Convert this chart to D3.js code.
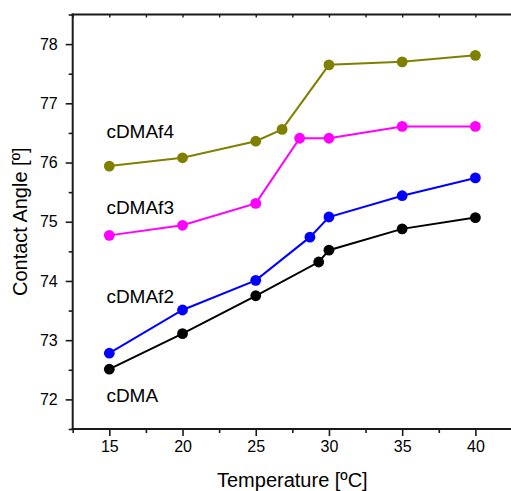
<!DOCTYPE html>
<html>
<head>
<meta charset="utf-8">
<script src="https://cdn.jsdelivr.net/npm/d3@7"></script>
<style>
  html, body { margin: 0; padding: 0; background: #fff; }
  svg { display: block; }
  text { font-family: "Liberation Sans", Arial, sans-serif; fill: #000; }
</style>
</head>
<body>
<svg id="chart" width="511" height="491"></svg>
<script>
// Contact angle vs temperature for four samples
const tempsCDMA   = [15, 20, 25, 29.3, 30, 35, 40];
const angleCDMA   = [72.51, 73.11, 73.75, 74.32, 74.52, 74.88, 75.07];
const tempsCDMAf2 = [15, 20, 25, 28.7, 30, 35, 40];
const angleCDMAf2 = [72.78, 73.51, 74.01, 74.74, 75.08, 75.44, 75.74];
const tempsCDMAf3 = [15, 20, 25, 28, 30, 35, 40];
const angleCDMAf3 = [74.77, 74.94, 75.31, 76.41, 76.41, 76.61, 76.61];
const tempsCDMAf4 = [15, 20, 25, 26.8, 30, 35, 40];
const angleCDMAf4 = [75.94, 76.08, 76.36, 76.56, 77.65, 77.70, 77.81];

const seriesNames  = ["cDMA", "cDMAf2", "cDMAf3", "cDMAf4"];
const seriesColors = ["#000000", "#0000ff", "#ff00ff", "#808000"];
// label anchor in data units (temperature, angle)
const labelTemp  = [14.8, 14.8, 14.8, 14.8];
const labelAngle = [71.95, 73.63, 75.13, 76.41];

const xTicks = [15, 20, 25, 30, 35, 40];
const yTicks = [72, 73, 74, 75, 76, 77, 78];

const seriesTemps  = [tempsCDMA, tempsCDMAf2, tempsCDMAf3, tempsCDMAf4];
const seriesAngles = [angleCDMA, angleCDMAf2, angleCDMAf3, angleCDMAf4];

const svg = d3.select("#chart");
const x = d3.scaleLinear().domain([12.5, 42.5]).range([72.7, 512]);
const y = d3.scaleLinear().domain([71.5, 78.5]).range([429, 14.5]);

const axisColor = "#1a1a1a";

// bottom axis: major ticks with labels, minor ticks in between
const minorX = d3.range(12.5, 42.51, 2.5).filter(v => !xTicks.includes(v));
const minorY = d3.range(71.5, 78.51, 0.5).filter(v => !yTicks.includes(v));

const gx = svg.append("g").attr("transform", `translate(0,${y(71.5)})`);
gx.call(d3.axisBottom(x).tickValues(xTicks).tickSize(7).tickPadding(5).tickFormat(d3.format("d")));
gx.append("g").call(d3.axisBottom(x).tickValues(minorX).tickSize(4).tickFormat(""));
gx.selectAll("path.domain").remove();
gx.append("line").attr("x1", x(12.5) - 1).attr("x2", x(42.5)).attr("stroke", axisColor).attr("stroke-width", 2);
gx.selectAll(".tick line").attr("stroke", axisColor).attr("stroke-width", 1.6);
gx.selectAll(".tick text").attr("font-size", 16).attr("fill", "#111");

// top axis: small inward ticks
const gt = svg.append("g").attr("transform", `translate(0,${y(78.5)})`);
gt.call(d3.axisBottom(x).tickValues(d3.range(12.5, 42.51, 2.5)).tickSize(3).tickFormat(""));
gt.selectAll("path.domain").remove();
gt.append("line").attr("x1", x(12.5) - 1).attr("x2", x(42.5)).attr("stroke", axisColor).attr("stroke-width", 2);
gt.selectAll(".tick line").attr("stroke", axisColor).attr("stroke-width", 1.4);

// left axis
const gy = svg.append("g").attr("transform", `translate(${x(12.5)},0)`);
gy.call(d3.axisLeft(y).tickValues(yTicks).tickSize(7).tickPadding(8).tickFormat(d3.format("d")));
gy.append("g").call(d3.axisLeft(y).tickValues(minorY).tickSize(4).tickFormat(""));
gy.selectAll("path.domain").remove();
gy.append("line").attr("y1", y(78.5) - 1).attr("y2", y(71.5) + 1).attr("stroke", axisColor).attr("stroke-width", 2);
gy.selectAll(".tick line").attr("stroke", axisColor).attr("stroke-width", 1.6);
gy.selectAll(".tick text").attr("font-size", 16).attr("fill", "#111");

// series lines and markers
const line = d3.line().x(d => x(d[0])).y(d => y(d[1]));
seriesNames.forEach((name, i) => {
  const pts = seriesTemps[i].map((t, j) => [t, seriesAngles[i][j]]);
  const g = svg.append("g").attr("class", "series");
  g.append("path").datum(pts).attr("d", line)
    .attr("fill", "none").attr("stroke", seriesColors[i]).attr("stroke-width", 2);
  g.selectAll("circle").data(pts).join("circle")
    .attr("cx", d => x(d[0])).attr("cy", d => y(d[1])).attr("r", 5.4)
    .attr("fill", seriesColors[i]);
  svg.append("text")
    .attr("x", x(labelTemp[i])).attr("y", y(labelAngle[i]))
    .attr("font-size", 19).text(name);
});

// axis titles
svg.append("text")
  .attr("x", (x(12.5) + x(42.5)) / 2).attr("y", 487)
  .attr("text-anchor", "middle").attr("font-size", 20)
  .text("Temperature [ºC]");
svg.append("text")
  .attr("transform", `translate(27,${(y(71.5) + y(78.5)) / 2}) rotate(-90)`)
  .attr("text-anchor", "middle").attr("font-size", 20)
  .text("Contact Angle [º]");
</script>
</body>
</html>
